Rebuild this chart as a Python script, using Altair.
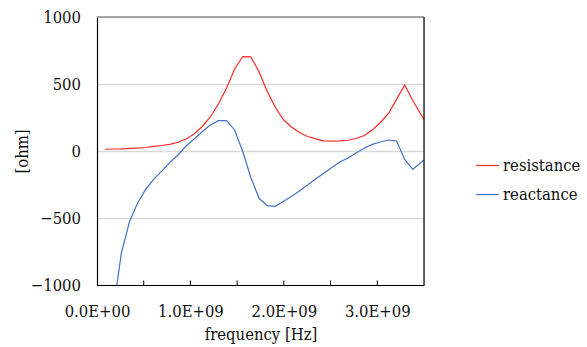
import altair as alt
import pandas as pd

# frequency in GHz (x positions of data points)
freq_ghz = [0.087, 0.173, 0.26, 0.347, 0.433, 0.52, 0.607, 0.693, 0.78, 0.867,
            0.953, 1.04, 1.127, 1.213, 1.3, 1.387, 1.473, 1.56, 1.647, 1.733,
            1.82, 1.907, 1.993, 2.08, 2.167, 2.253, 2.34, 2.427, 2.513, 2.6,
            2.687, 2.773, 2.86, 2.947, 3.033, 3.12, 3.207, 3.293, 3.38, 3.467, 3.553]

resistance = [13, 15, 16, 19, 22, 26, 34, 41, 50, 65,
              90, 127, 183, 254, 351, 470, 612, 705, 702, 593,
              448, 328, 235, 179, 138, 108, 90, 76, 73, 75,
              80, 93, 116, 157, 213, 280, 385, 493, 377, 272, 180]

reactance = [-2400, -1200, -763, -530, -390, -288, -210, -150, -85, -30,
             37, 90, 146, 194, 226, 226, 157, -4, -198, -351,
             -408, -413, -377, -340, -299, -254, -209, -166, -123, -82,
             -52, -15, 20, 49, 67, 82, 75, -63, -138, -86, -37]

series_names = ["resistance", "reactance"]
series_colors = ["#ff2a2a", "#4472c4"]

x_tick_labels = ["0.0E+00", "1.0E+09", "2.0E+09", "3.0E+09"]
x_label_values = [0.0, 1.0e9, 2.0e9, 3.0e9]
x_minor_ticks = [0.5e9, 1.0e9, 1.5e9, 2.0e9, 2.5e9, 3.0e9]
y_ticks = [-1000, -500, 0, 500, 1000]
x_max = 3.5e9

FONT = "DejaVu Serif Condensed, DejaVu Serif"
FS = 16.5
W, H = 327, 268

rows = []
for f, r, x in zip(freq_ghz, resistance, reactance):
    rows.append({"frequency": f * 1e9, "value": r, "series": "resistance"})
    rows.append({"frequency": f * 1e9, "value": x, "series": "reactance"})
df = pd.DataFrame(rows)

xscale = alt.Scale(domain=[0, x_max], nice=False, zero=False)
yscale = alt.Scale(domain=[-1000, 1000], nice=False, zero=False)

label_arr = "[" + ",".join("'%s'" % s for s in x_tick_labels) + "]"

xaxis = alt.Axis(
    values=x_label_values,
    labelExpr=label_arr + "[round(datum.value/1e9)]",
    ticks=False, grid=False,
    domainColor="black", domainWidth=1.2,
    labelFont=FONT, labelFontSize=FS, labelColor="#111",
    labelBaseline="alphabetic", labelPadding=31,
    labelFlush=False, labelOverlap=False,
    title="frequency [Hz]", titleFont=FONT, titleFontSize=FS,
    titleFontWeight="normal", titleColor="#111",
    titleBaseline="alphabetic", titleY=54.5, titleX=W / 2,
)
yaxis = alt.Axis(
    values=y_ticks, format="d",
    ticks=False, grid=True, gridColor="#d9d9d9", gridWidth=1.3,
    domainColor="black", domainWidth=1.2,
    labelFont=FONT, labelFontSize=FS, labelColor="#111",
    labelPadding=16.5, labelFlush=False, labelOverlap=False,
    title="[ohm]", titleFont=FONT, titleFontSize=FS,
    titleFontWeight="normal", titleColor="#111",
    titleBaseline="alphabetic", titleX=-70, titleY=H / 2,
)

lines = alt.Chart(df).mark_line(clip=True, strokeWidth=1.2).encode(
    x=alt.X("frequency:Q", scale=xscale, axis=xaxis),
    y=alt.Y("value:Q", scale=yscale, axis=yaxis),
    color=alt.Color(
        "series:N",
        scale=alt.Scale(domain=series_names, range=series_colors),
        sort=series_names,
        legend=alt.Legend(
            orient="none", legendX=378, legendY=136, title=None,
            symbolType="stroke", symbolSize=529, symbolStrokeWidth=1.2,
            labelFont=FONT, labelFontSize=FS, labelColor="#111",
            labelOffset=3, rowPadding=8, padding=0,
        ),
    ),
    detail="series:N",
)

ticks_df = pd.DataFrame({"tick": x_minor_ticks})
ticks = alt.Chart(ticks_df).mark_rule(color="black", strokeWidth=1).encode(
    x=alt.X("tick:Q", scale=xscale),
    y=alt.value(H),
    y2=alt.value(H - 4.5),
)

border_df = pd.DataFrame({"xb": [x_max], "yb": [1000]})
right_border = alt.Chart(border_df).mark_rule(color="black", strokeWidth=1.2).encode(
    x=alt.X("xb:Q", scale=xscale)
)
top_border = alt.Chart(border_df).mark_rule(color="#8c8c8c", strokeWidth=1.3).encode(
    y=alt.Y("yb:Q", scale=yscale)
)

chart = alt.layer(top_border, lines, ticks, right_border).properties(
    width=W, height=H,
    autosize=alt.AutoSizeParams(type="none"),
    padding={"left": 97, "top": 17, "right": 587 - 97 - W, "bottom": 347 - 17 - H},
).configure_view(stroke=None).configure(background="white", font=FONT)

chart.save("out.html", embed_options={"renderer": "svg", "actions": False})
